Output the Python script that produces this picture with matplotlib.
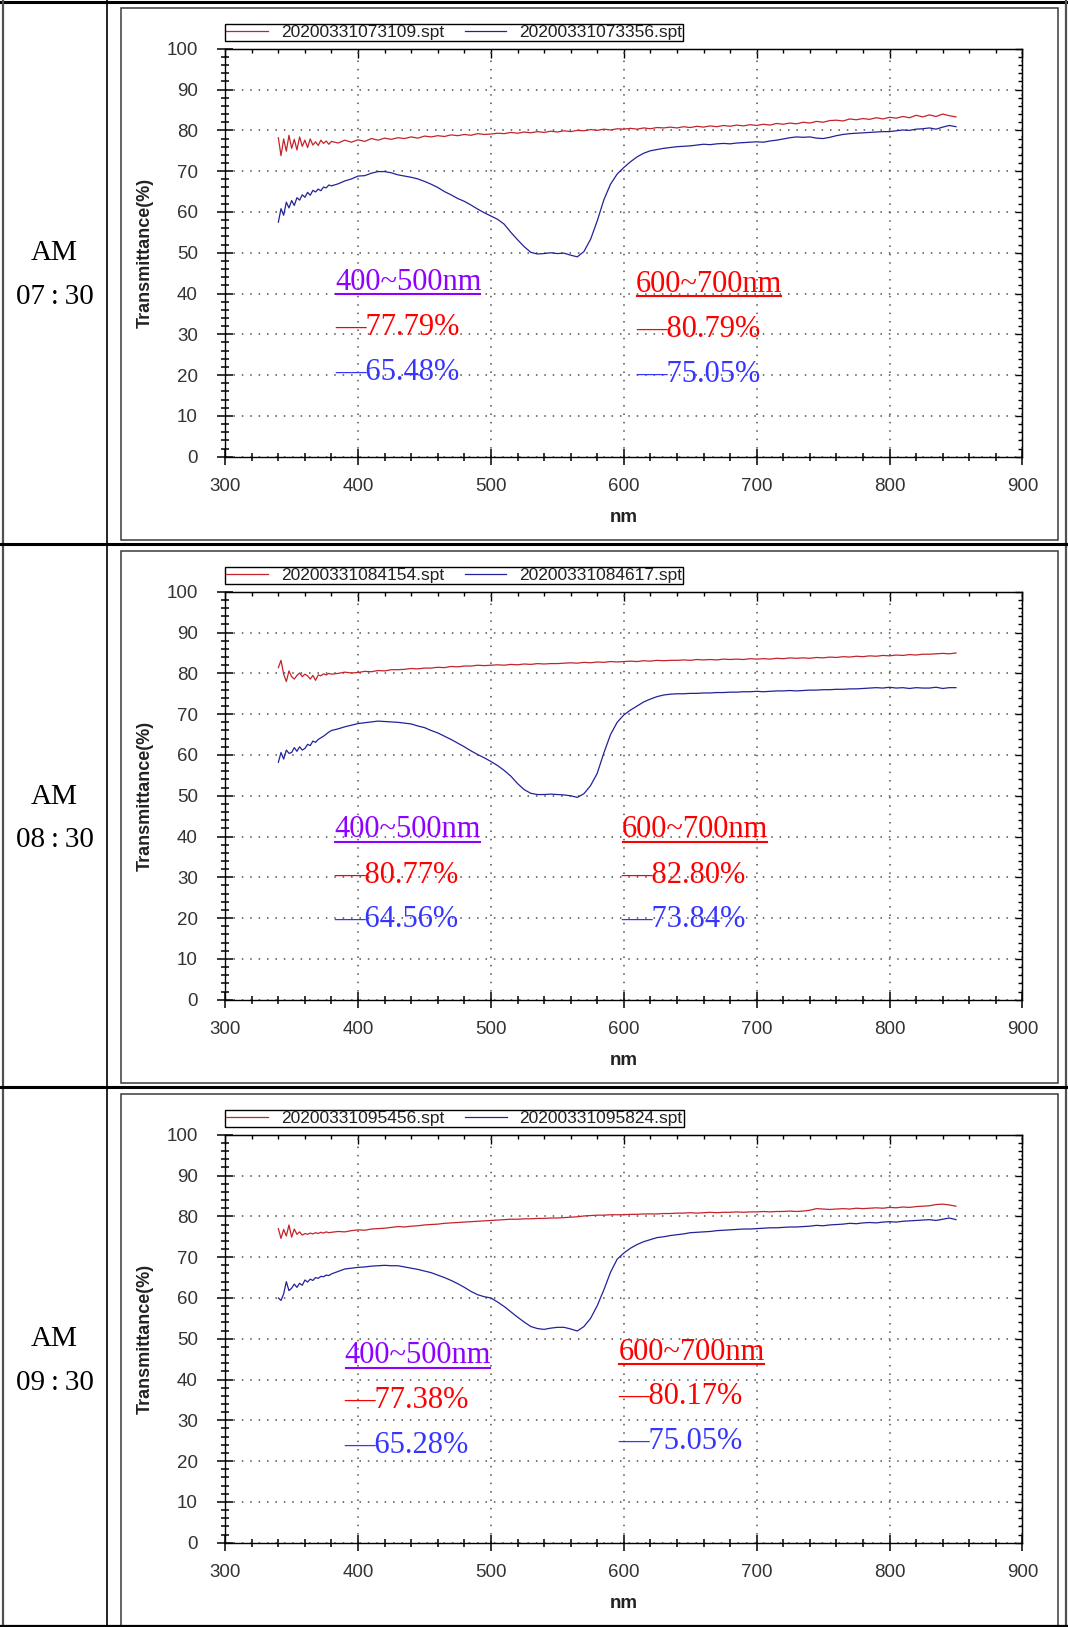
import numpy as np
import matplotlib
matplotlib.use('Agg')
import matplotlib.pyplot as plt
from matplotlib.lines import Line2D
from matplotlib.patches import Rectangle
from matplotlib.ticker import MultipleLocator

plt.rcParams['font.family'] = ['Liberation Sans', 'DejaVu Sans']

#%% data (transmittance %, nm)
wl = list(range(340, 381, 2)) + list(range(385, 851, 5))

times = ['07\u2009:\u200930', '08\u2009:\u200930', '09\u2009:\u200930']
files_red = ['20200331073109.spt', '20200331084154.spt', '20200331095456.spt']
files_blue = ['20200331073356.spt', '20200331084617.spt', '20200331095824.spt']

red_0730 = [78.2, 73.8, 77.9, 74.9, 78.8, 75.6, 77.8, 75.2, 78.4, 76.1, 77.6, 75.8, 77.9, 76.4, 77.2, 76.3, 77.6, 76.8, 77.4, 76.6, 77.3,
            76.9, 77.6, 77.1, 77.7, 77.3, 78.0, 77.6, 78.1, 77.8, 78.2,
            78.0, 78.4, 78.1, 78.6, 78.4, 78.7, 78.5, 78.9, 78.7, 79.0,
            78.8, 79.2, 79.0, 79.1, 79.3, 79.2, 79.5, 79.3, 79.6, 79.4,
            79.7, 79.5, 79.8, 79.6, 79.9, 79.7, 80.0, 79.9, 80.2, 80.0,
            80.3, 80.1, 80.4, 80.3, 80.5, 80.3, 80.6, 80.4, 80.7, 80.6,
            80.8, 80.6, 80.9, 80.7, 81.0, 80.8, 81.1, 80.9, 81.2, 81.0,
            81.3, 81.1, 81.4, 81.2, 81.5, 81.3, 81.7, 81.5, 81.8, 81.6,
            82.0, 81.8, 82.2, 82.0, 82.4, 82.5, 82.3, 82.8, 82.6, 82.9,
            82.7, 83.1, 82.8, 83.2, 83.0, 83.4, 83.1, 83.7, 83.3, 83.8,
            83.4, 84.0, 83.6, 83.3]
blue_0730 = [57.5, 60.8, 59.2, 62.4, 61.0, 62.8, 61.6, 63.5, 62.9, 64.2, 63.6, 64.8, 64.1, 65.3, 64.9, 65.6, 65.2, 66.1, 65.9, 66.6, 66.4,
             66.9, 67.6, 68.1, 68.8, 68.9, 69.5, 69.9, 69.9, 69.6, 69.1,
             68.8, 68.5, 68.1, 67.5, 66.8, 66.0, 65.0, 64.2, 63.3, 62.6,
             61.7, 60.7, 59.8, 59.0, 58.2, 57.0, 55.0, 53.2, 51.5, 50.1,
             49.7, 49.8, 50.0, 49.8, 49.9, 49.4, 49.0, 50.3, 53.3, 57.8,
             63.0, 66.8, 69.3, 70.9, 72.3, 73.5, 74.4, 75.0, 75.3, 75.6,
             75.8, 76.0, 76.1, 76.2, 76.4, 76.6, 76.5, 76.7, 76.8, 76.7,
             76.9, 77.0, 77.1, 77.2, 77.1, 77.4, 77.6, 77.9, 78.2, 78.4,
             78.3, 78.4, 78.1, 78.0, 78.3, 78.7, 79.0, 79.2, 79.3, 79.4,
             79.5, 79.6, 79.7, 79.7, 79.9, 80.1, 80.0, 80.3, 80.4, 80.6,
             80.3, 80.8, 81.2, 80.9]

red_0830 = [81.4, 83.2, 79.8, 78.0, 80.6, 79.2, 78.6, 79.5, 80.1, 79.2, 79.8, 79.4, 78.6, 79.5, 78.3, 79.6, 79.4, 79.9, 79.6, 80.0, 79.8,
            80.0, 80.3, 80.1, 80.2, 80.5, 80.4, 80.7, 80.6, 80.9, 80.9,
            81.0, 81.2, 81.1, 81.3, 81.3, 81.5, 81.4, 81.7, 81.6, 81.8,
            81.8, 82.0, 81.9, 82.0, 82.1, 82.0, 82.2, 82.1, 82.3, 82.2,
            82.4, 82.3, 82.4, 82.4, 82.5, 82.6, 82.5, 82.7, 82.6, 82.8,
            82.7, 82.9, 82.8, 82.9, 83.0, 82.9, 83.1, 83.0, 83.2, 83.1,
            83.2, 83.2, 83.3, 83.2, 83.4, 83.3, 83.4, 83.3, 83.5, 83.4,
            83.5, 83.4, 83.6, 83.5, 83.6, 83.5, 83.7, 83.6, 83.8, 83.7,
            83.8, 83.7, 83.9, 83.8, 84.0, 83.9, 84.1, 84.0, 84.2, 84.1,
            84.3, 84.2, 84.4, 84.3, 84.5, 84.4, 84.6, 84.5, 84.7, 84.7,
            84.8, 84.9, 84.8, 85.0]
blue_0830 = [58.2, 60.6, 59.0, 61.2, 60.4, 60.6, 61.8, 60.9, 62.0, 61.2, 61.6, 62.6, 62.3, 63.4, 63.1, 63.8, 64.2, 64.6, 65.1, 65.6, 66.0,
             66.4, 66.9, 67.3, 67.7, 67.9, 68.1, 68.3, 68.2, 68.1, 68.0,
             67.8, 67.6, 67.1, 66.7, 66.0, 65.4, 64.6, 63.8, 62.9, 62.0,
             61.0, 60.1, 59.3, 58.4, 57.4, 56.2, 54.8, 53.0, 51.5, 50.6,
             50.3, 50.3, 50.4, 50.3, 50.2, 50.0, 49.6, 50.5, 52.5, 55.5,
             60.5, 65.0, 68.0, 69.8, 71.0, 72.0, 73.0, 73.7, 74.3, 74.7,
             74.9, 75.0, 75.0, 75.1, 75.1, 75.2, 75.2, 75.3, 75.3, 75.4,
             75.4, 75.5, 75.5, 75.6, 75.5, 75.6, 75.7, 75.7, 75.8, 75.7,
             75.8, 75.9, 75.9, 76.0, 76.0, 76.1, 76.1, 76.2, 76.2, 76.3,
             76.4, 76.5, 76.4, 76.6, 76.4, 76.5, 76.3, 76.5, 76.4, 76.4,
             76.6, 76.3, 76.5, 76.5]

red_0930 = [77.0, 74.6, 76.8, 75.2, 77.9, 74.9, 76.9, 75.6, 76.2, 75.4, 75.8, 75.6, 75.9, 75.7, 76.0, 75.8, 76.1, 75.9, 76.2, 76.0, 76.1,
            76.3, 76.2, 76.5, 76.7, 76.6, 76.9, 77.0, 77.1, 77.3, 77.5,
            77.4, 77.6, 77.7, 77.9, 78.0, 78.1, 78.3, 78.4, 78.5, 78.6,
            78.7, 78.8, 78.9, 79.0, 79.1, 79.2, 79.3, 79.3, 79.4, 79.4,
            79.5, 79.5, 79.6, 79.6, 79.7, 79.8, 79.9, 80.1, 80.2, 80.3,
            80.3, 80.4, 80.4, 80.4, 80.5, 80.5, 80.6, 80.6, 80.6, 80.7,
            80.7, 80.8, 80.8, 80.9, 80.8, 80.9, 81.0, 80.9, 81.0, 81.0,
            81.1, 81.0, 81.1, 81.1, 81.2, 81.1, 81.2, 81.2, 81.3, 81.2,
            81.3, 81.5, 81.9, 81.8, 81.7, 81.8, 81.9, 81.8, 82.0, 81.9,
            82.0, 82.1, 82.0, 82.2, 82.1, 82.3, 82.2, 82.4, 82.5, 82.6,
            82.9, 83.0, 82.8, 82.5]
blue_0930 = [60.0, 59.4, 61.0, 64.0, 61.8, 62.4, 63.4, 62.6, 63.6, 63.1, 64.4, 63.9, 64.6, 64.3, 65.0, 64.8, 65.3, 65.2, 65.6, 65.5, 65.9,
             66.5, 67.1, 67.3, 67.5, 67.6, 67.8, 67.9, 68.0, 67.9, 67.9,
             67.6, 67.3, 67.0, 66.6, 66.2, 65.6, 65.0, 64.3, 63.5, 62.6,
             61.6, 60.8, 60.3, 60.0, 59.0, 57.9, 56.6, 55.3, 54.1, 53.0,
             52.5, 52.3, 52.6, 52.8, 52.8, 52.4, 51.9, 53.0, 55.0, 58.1,
             62.0, 66.3, 69.5, 71.0, 72.2, 73.1, 73.8, 74.3, 74.8, 75.0,
             75.3, 75.5, 75.7, 76.0, 76.1, 76.2, 76.3, 76.5, 76.6, 76.7,
             76.8, 76.9, 76.9, 77.0, 77.1, 77.2, 77.2, 77.3, 77.4, 77.4,
             77.5, 77.6, 77.8, 77.7, 77.9, 78.0, 78.1, 78.3, 78.2, 78.4,
             78.5, 78.4, 78.6, 78.7, 78.6, 78.8, 78.9, 79.0, 79.1, 79.2,
             79.0, 79.3, 79.6, 79.2]

red_all = [red_0730, red_0830, red_0930]
blue_all = [blue_0730, blue_0830, blue_0930]

# band averages written on each chart (red, blue)
avg_400_500 = [('77.79%', '65.48%'), ('80.77%', '64.56%'), ('77.38%', '65.28%')]
avg_600_700 = [('80.79%', '75.05%'), ('82.80%', '73.84%'), ('80.17%', '75.05%')]

#%% layout (pixels of the 1068x1627 page)
W, H = 1068, 1627
ROW = 543.0
def fx(x): return x / W
def fy(y): return 1 - y / H

# where the annotation blocks sit, in data units (x = nm of left edge, y = baselines)
ann_left_x = [382.6, 382.0, 389.9]
ann_right_x = [609.0, 598.4, 596.0]
ann_left_y = [(40.9, 29.8, 18.8), (39.8, 28.7, 17.8), (44.0, 33.1, 22.1)]
ann_right_y = [(40.5, 29.4, 18.4), (39.8, 28.7, 17.8), (44.8, 34.1, 22.9)]

c_red_line = '#C4232B'
c_blue_line = '#22229A'
c_purple = '#9000FF'
c_red_txt = '#FF0000'
c_blue_txt = '#3535FF'
serif = ['Liberation Serif', 'DejaVu Serif']

fig = plt.figure(figsize=(W / 100, H / 100), dpi=100)

# table grid
tl = dict(transform=fig.transFigure, color='black')
fig.add_artist(Line2D([fx(0), fx(W)], [fy(2), fy(2)], lw=2.2, **tl))
fig.add_artist(Line2D([fx(2.5), fx(2.5)], [fy(0), fy(H)], lw=1.6, transform=fig.transFigure, color='#505050'))
fig.add_artist(Line2D([fx(1066), fx(1066)], [fy(0), fy(H)], lw=1.6, transform=fig.transFigure, color='#505050'))
fig.add_artist(Line2D([fx(107), fx(107)], [fy(0), fy(H)], lw=1.2, **tl))
fig.add_artist(Line2D([fx(0), fx(W)], [fy(1625.5), fy(1625.5)], lw=1.6, **tl))
for r in (1, 2):
    fig.add_artist(Line2D([fx(0), fx(W)], [fy(544 + (r - 1) * ROW), fy(544 + (r - 1) * ROW)], lw=2.2, **tl))

headers = []
for r in range(3):
    off = r * ROW
    # screenshot frame
    fig.add_artist(Rectangle((fx(120.7), fy(540 + off)), (1057.6 - 120.7) / W, 532.4 / H,
                             transform=fig.transFigure, fill=False, edgecolor='#3a3a3a', lw=1.1))
    fig.text(fx(54.5), fy(260.5 + off), 'AM', ha='center', va='baseline', fontsize=21, family=serif)
    fig.text(fx(54.5), fy(304 + off), times[r], ha='center', va='baseline', fontsize=21, family=serif)

    ax = fig.add_axes([fx(225.2), fy(456.7 + off), (1022.4 - 225.2) / W, 407.9 / H])
    l1, = ax.plot(wl, red_all[r], color=c_red_line, lw=0.9)
    l2, = ax.plot(wl, blue_all[r], color=c_blue_line, lw=0.9)
    ax.set_xlim(300, 900)
    ax.set_ylim(0, 100)
    ax.xaxis.set_major_locator(MultipleLocator(100))
    ax.xaxis.set_minor_locator(MultipleLocator(20))
    ax.yaxis.set_major_locator(MultipleLocator(10))
    ax.yaxis.set_minor_locator(MultipleLocator(2))
    ax.tick_params(which='both', direction='inout', width=1.1, colors='black', labelcolor='#333333',
                   labelsize=13.5)
    ax.tick_params(axis='x', which='major', length=12, pad=9)
    ax.tick_params(axis='x', which='minor', length=6)
    ax.tick_params(axis='y', which='major', length=11.5, pad=14)
    ax.tick_params(axis='y', which='minor', length=5.5)
    for s in ax.spines.values():
        s.set_linewidth(1.0)
    ax.grid(True, which='major', color='#505050', linestyle=(0, (1, 4.5)), linewidth=1.1)
    ax.set_axisbelow(True)

    # top / right ticks point inward only
    sx = ax.secondary_xaxis('top')
    sx.xaxis.set_major_locator(MultipleLocator(100))
    sx.xaxis.set_minor_locator(MultipleLocator(20))
    sx.tick_params(which='both', direction='in', labeltop=False, width=1.0)
    sx.tick_params(which='major', length=6.5)
    sx.tick_params(which='minor', length=3)
    sy = ax.secondary_yaxis('right')
    sy.yaxis.set_major_locator(MultipleLocator(10))
    sy.yaxis.set_minor_locator(MultipleLocator(2))
    sy.tick_params(which='both', direction='in', labelright=False, width=1.0)
    sy.tick_params(which='major', length=5)
    sy.tick_params(which='minor', length=3)

    ax.set_xlabel('nm', fontsize=13.5, fontweight='bold', color='#222222', va='center')
    ax.xaxis.set_label_coords(0.5, -0.149)
    ax.set_ylabel('Transmittance(%)', fontsize=13, fontweight='bold', color='#222222', va='center')
    ax.yaxis.set_label_coords(-0.1005, 0.5)

    leg = ax.legend([l1, l2], [files_red[r], files_blue[r]], ncol=2, loc='lower left',
                    bbox_to_anchor=(0.0, 1.019), borderaxespad=0, fancybox=False, framealpha=1,
                    edgecolor='black', fontsize=12.5, handlelength=2.4, handletextpad=0.75,
                    columnspacing=1.2, borderpad=0.05)
    leg.get_frame().set_linewidth(1.0)
    for t in leg.get_texts():
        t.set_color('#222222')

    # band averages
    yl = ann_left_y[r]
    yr = ann_right_y[r]
    h1 = ax.text(ann_left_x[r], yl[0], '400~500nm', color=c_purple, fontsize=22, family=serif, va='baseline')
    ax.text(ann_left_x[r], yl[1], '—' + avg_400_500[r][0], color=c_red_txt, fontsize=22, family=serif, va='baseline')
    ax.text(ann_left_x[r], yl[2], '—' + avg_400_500[r][1], color=c_blue_txt, fontsize=22, family=serif, va='baseline')
    h2 = ax.text(ann_right_x[r], yr[0], '600~700nm', color=c_red_txt, fontsize=22, family=serif, va='baseline')
    ax.text(ann_right_x[r], yr[1], '—' + avg_600_700[r][0], color=c_red_txt, fontsize=22, family=serif, va='baseline')
    ax.text(ann_right_x[r], yr[2], '—' + avg_600_700[r][1], color=c_blue_txt, fontsize=22, family=serif, va='baseline')
    headers += [(ax, h1), (ax, h2)]

# underline the band headers
fig.canvas.draw()
inv = fig.transFigure.inverted()
for ax, t in headers:
    bb = t.get_window_extent()
    yb = ax.transData.transform(t.get_position())[1] - 4.5
    p0 = inv.transform((bb.x0 + 1, yb))
    p1 = inv.transform((bb.x1 - 1, yb))
    fig.add_artist(Line2D([p0[0], p1[0]], [p0[1], p1[1]], transform=fig.transFigure,
                          color=t.get_color(), lw=1.5))

fig.savefig('out.png', dpi=100)
